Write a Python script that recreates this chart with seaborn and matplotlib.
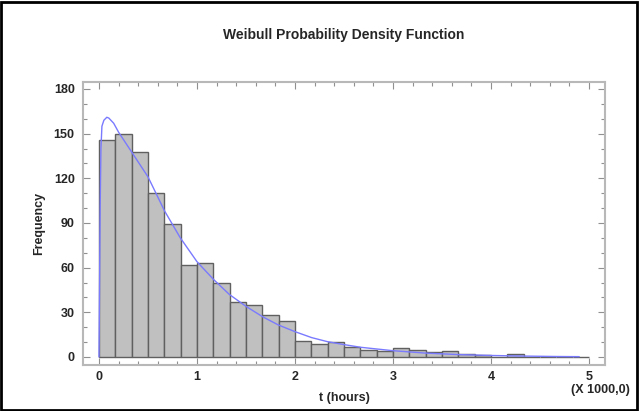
import numpy as np
import pandas as pd
import matplotlib
matplotlib.use("Agg")
import matplotlib.pyplot as plt
import seaborn as sns
from matplotlib.ticker import MultipleLocator
from matplotlib.patches import Rectangle

# histogram counts, 30 bins of width 1/6 (x 1000 hours) from 0 to 5
bin_edges = np.linspace(0, 5, 31)
counts = [146, 150, 138, 110, 89, 62, 63, 50, 37, 35,
          28, 24, 11, 9, 10, 7, 5, 4, 6, 5,
          3, 4, 2, 1, 0, 2, 0, 0, 0, 0]

# fitted Weibull density (scaled to frequency)
curve_t = [0.0, 0.005, 0.012, 0.02, 0.03, 0.05, 0.08, 0.1, 0.15, 0.2, 0.25, 0.33,
           0.42, 0.5, 0.67, 0.83, 1.0, 1.17, 1.33, 1.5, 1.67, 1.83, 2.0, 2.17,
           2.33, 2.5, 2.67, 3.0, 3.33, 3.67, 4.0, 4.33, 4.67, 4.9]
curve_f = [0, 40, 100, 140, 155, 159, 161, 160.5, 157, 151, 146, 138,
           129, 121, 98, 80, 64, 52, 42, 34, 27, 21.5, 17, 13,
           10.3, 8.3, 6.5, 4.2, 2.6, 1.6, 1.0, 0.6, 0.3, 0.2]

sns.set_theme(style="white")
plt.rcParams['font.family'] = ['Liberation Sans', 'DejaVu Sans']

fig = plt.figure(figsize=(6.39, 4.11), dpi=100)
ax = fig.add_axes([83 / 639, 1 - 365 / 411, (605 - 83) / 639, (365 - 82) / 411])

centers = (bin_edges[:-1] + bin_edges[1:]) / 2
hist_df = pd.DataFrame({"t": centers, "n": counts})
sns.histplot(data=hist_df, x="t", weights="n", binwidth=5 / 30, binrange=(0, 5),
             ax=ax, color="#c0c0c0", edgecolor="#606060", linewidth=1.0, alpha=1.0)

curve_df = pd.DataFrame({"t": curve_t, "f": curve_f})
sns.lineplot(data=curve_df, x="t", y="f", ax=ax, color="#7a7aff", linewidth=1.0)

ax.set_xlim(-0.163, 5.163)
ax.set_ylim(-5.4, 184.7)
ax.xaxis.set_major_locator(MultipleLocator(1))
ax.xaxis.set_minor_locator(MultipleLocator(0.2))
ax.yaxis.set_major_locator(MultipleLocator(30))
ax.yaxis.set_minor_locator(MultipleLocator(10))
ax.tick_params(which="both", direction="in", top=True, right=True,
               bottom=True, left=True,
               labeltop=False, labelright=False, color="#909090", width=0.8)
ax.tick_params(which="major", length=5, labelsize=9, pad=6)
ax.tick_params(axis="x", which="major", pad=4)
ax.tick_params(which="minor", length=3)
for lbl in ax.get_xticklabels() + ax.get_yticklabels():
    lbl.set_fontweight("bold")
for sp in ax.spines.values():
    sp.set_color("#b8b8b8")
    sp.set_linewidth(1.5)

ax.set_xlabel("t (hours)", fontsize=9, fontweight="bold", labelpad=7)
ax.set_ylabel("Frequency", fontsize=9, fontweight="bold", labelpad=6)
ax.set_title("Weibull Probability Density Function", fontsize=10,
             fontweight="bold", pad=31)
fig.text(600 / 639, 1 - 384 / 411, "(X 1000,0)", fontsize=9, fontweight="bold",
         ha="center", va="top")

# outer frame of the picture
fig.patches.append(Rectangle((0.002, 0.003), 0.995, 0.993, transform=fig.transFigure,
                             fill=False, edgecolor="black", linewidth=2))

fig.savefig("out.png", dpi=100)
